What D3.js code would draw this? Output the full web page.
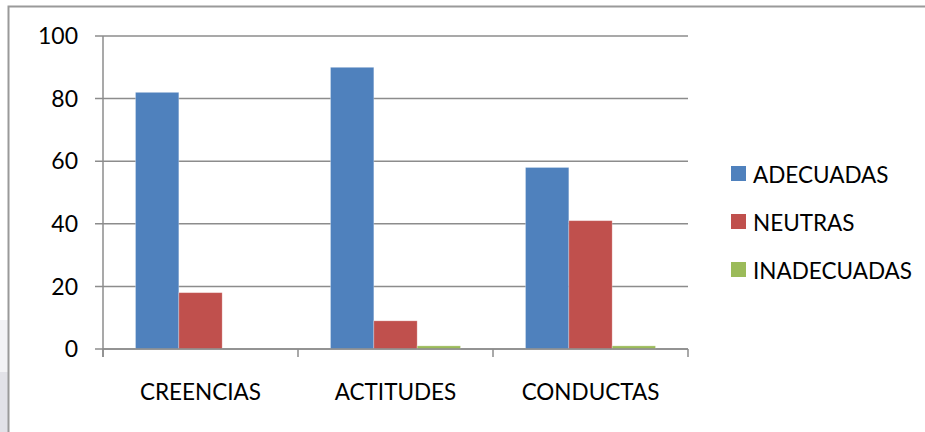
<!DOCTYPE html>
<html>
<head>
<meta charset="utf-8">
<script src="https://cdn.jsdelivr.net/npm/d3@7"></script>
<style>
  body { margin: 0; background: #fff; }
  text { font-family: Lato, "Open Sans", sans-serif; fill: #000; }
  .grid line { stroke: #8c8c8c; stroke-width: 1.5; }
  .axis path, .axis line { stroke: #8c8c8c; stroke-width: 1.5; }
</style>
</head>
<body>
<div id="chart"></div>
<script>
// data
var categories = ["CREENCIAS", "ACTITUDES", "CONDUCTAS"];
var seriesNames = ["ADECUADAS", "NEUTRAS", "INADECUADAS"];
var adecuadas = [82, 90, 58];
var neutras = [18, 9, 41];
var inadecuadas = [0, 1, 1];
var yTicks = [0, 20, 40, 60, 80, 100];
var colors = ["#4F81BD", "#C0504D", "#9BBB59"];

var seriesValues = [adecuadas, neutras, inadecuadas];
var rows = categories.map(function(c, i) {
  return { cat: c, values: seriesNames.map(function(s, j) { return { name: s, value: seriesValues[j][i] }; }) };
});

var W = 925, H = 432;
var margin = { top: 36, left: 103 };
var width = 585, height = 313;
var fontSize = "22.5px";

var svg = d3.select("#chart").append("svg")
  .attr("width", W)
  .attr("height", H);

// little grey strip at the left edge, outside the frame
svg.append("rect").attr("x", 0).attr("y", 320).attr("width", 8).attr("height", 52).attr("fill", "#f3f3f6");
svg.append("rect").attr("x", 0).attr("y", 372).attr("width", 8).attr("height", 60).attr("fill", "#e2e2e8");

// chart frame
svg.append("path")
  .attr("d", "M8.5," + H + "V6.5H" + W)
  .attr("fill", "none")
  .attr("stroke", "#9a9a9a")
  .attr("stroke-width", 2);

var g = svg.append("g").attr("transform", "translate(" + margin.left + "," + margin.top + ")");

var x0 = d3.scaleBand().domain(categories).range([0, width]).padding(0);
var x1 = d3.scaleBand().domain(seriesNames).range([32.5, x0.bandwidth() - 32.5]).padding(0);
var y = d3.scaleLinear().domain([0, 100]).range([height, 0]);

// gridlines (with the left tick stubs)
g.append("g").attr("class", "grid")
  .selectAll("line")
  .data(yTicks)
  .enter().append("line")
  .attr("x1", -8)
  .attr("x2", width)
  .attr("y1", function(d) { return y(d); })
  .attr("y2", function(d) { return y(d); });

// y axis labels
g.append("g")
  .selectAll("text")
  .data(yTicks)
  .enter().append("text")
  .attr("x", -25)
  .attr("y", function(d) { return y(d); })
  .attr("dy", "0.36em")
  .attr("text-anchor", "end")
  .style("font-size", "23px")
  .text(function(d) { return d; });

// vertical axis line
g.append("line")
  .attr("x1", 0).attr("x2", 0)
  .attr("y1", 0).attr("y2", height + 8)
  .attr("stroke", "#8c8c8c").attr("stroke-width", 1.5);

// bars
var groups = g.selectAll(".grp")
  .data(rows)
  .enter().append("g")
  .attr("class", "grp")
  .attr("transform", function(d) { return "translate(" + x0(d.cat) + ",0)"; });

groups.selectAll("rect")
  .data(function(d) { return d.values; })
  .enter().append("rect")
  .attr("x", function(d) { return x1(d.name); })
  .attr("width", x1.bandwidth())
  .attr("y", function(d) { return y(d.value); })
  .attr("height", function(d) { return height - y(d.value); })
  .attr("fill", function(d, i) { return colors[i]; })
  .attr("stroke", function(d) { return d.value > 0 ? "rgba(255,255,255,0.35)" : "none"; })
  .attr("stroke-width", 0.8);

// x axis
var xAxis = g.append("g").attr("class", "axis")
  .attr("transform", "translate(0," + height + ")");
xAxis.append("line")
  .attr("x1", 0).attr("x2", width)
  .attr("y1", 0).attr("y2", 0);
xAxis.selectAll(".tick")
  .data(categories.concat(["end"]))
  .enter().append("line")
  .attr("x1", function(d, i) { return i * x0.bandwidth(); })
  .attr("x2", function(d, i) { return i * x0.bandwidth(); })
  .attr("y1", 0).attr("y2", 8);
xAxis.selectAll("text")
  .data(categories)
  .enter().append("text")
  .attr("x", function(d) { return x0(d) + x0.bandwidth() / 2; })
  .attr("y", 51)
  .attr("text-anchor", "middle")
  .style("font-size", fontSize)
  .text(function(d) { return d; });

// legend
var legend = svg.append("g").attr("transform", "translate(731,166)");
var item = legend.selectAll("g")
  .data(seriesNames)
  .enter().append("g")
  .attr("transform", function(d, i) { return "translate(0," + i * 48 + ")"; });
item.append("rect")
  .attr("width", 15).attr("height", 15)
  .attr("fill", function(d, i) { return colors[i]; });
item.append("text")
  .attr("x", 22)
  .attr("y", 17)
  .style("font-size", fontSize)
  .text(function(d) { return d; });
</script>
</body>
</html>
